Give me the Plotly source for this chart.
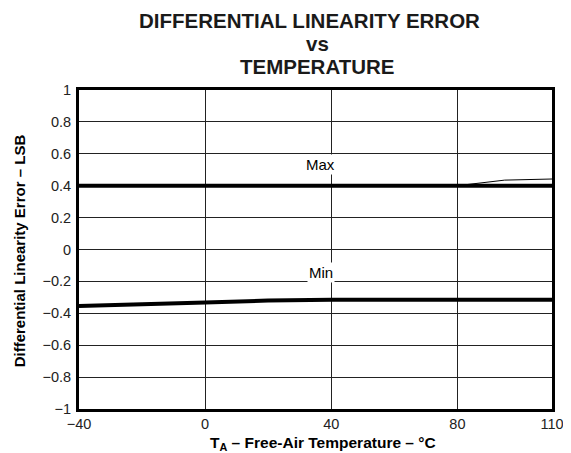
import plotly.graph_objects as go

# data
max_temp = [-40, -20, 0, 20, 40, 60, 80, 110]
max_val = [0.40, 0.40, 0.395, 0.395, 0.395, 0.397, 0.40, 0.40]
max_hi_temp = [80, 95, 110]
max_hi_val = [0.40, 0.435, 0.442]
min_temp = [-40, -30, -20, 0, 20, 40, 60, 80, 110]
min_val = [-0.355, -0.347, -0.344, -0.333, -0.32, -0.315, -0.315, -0.315, -0.315]

x_ticks = [-40, 0, 40, 80, 110]
x_text = ["\u221240", "0", "40", "80", "110"]
y_ticks = [-1, -0.8, -0.6, -0.4, -0.2, 0, 0.2, 0.4, 0.6, 0.8, 1]
y_text = ["\u22121", "\u22120.8", "\u22120.6", "\u22120.4", "\u22120.2", "0",
          "0.2", "0.4", "0.6", "0.8", "1"]

font = "Liberation Sans, Arial, sans-serif"

fig = go.Figure()
fig.add_trace(go.Scatter(x=max_temp, y=max_val, mode="lines",
                         line=dict(color="black", width=4), name="Max"))
fig.add_trace(go.Scatter(x=max_hi_temp, y=max_hi_val, mode="lines",
                         line=dict(color="black", width=1), name="Max"))
fig.add_trace(go.Scatter(x=min_temp, y=min_val, mode="lines",
                         line=dict(color="black", width=4), name="Min"))

fig.add_annotation(x=36.5, y=0.53, text="Max", showarrow=False,
                   bgcolor="white", font=dict(size=15, color="black"))
fig.add_annotation(x=36.8, y=-0.147, text="Min", showarrow=False,
                   bgcolor="white", font=dict(size=15, color="black"))

# three-line title, placed line by line
title_lines = ["DIFFERENTIAL LINEARITY ERROR", "vs", "TEMPERATURE"]
for txt, xp, yp in zip(title_lines, [0.488, 0.505, 0.505], [1.219, 1.147, 1.075]):
    fig.add_annotation(x=xp, y=yp, xref="paper", yref="paper", text="<b>%s</b>" % txt,
                       showarrow=False, xanchor="center", yanchor="middle",
                       font=dict(size=20.5, color="#1a1a1a"))

# axis titles
fig.add_annotation(x=0.516, y=-0.107, xref="paper", yref="paper",
                   text="<b>T<sub>A</sub> – Free-Air Temperature – °C</b>",
                   showarrow=False, xanchor="center", yanchor="middle",
                   font=dict(size=15.5, color="black"))
fig.add_annotation(x=-0.125, y=0.497, xref="paper", yref="paper", textangle=-90,
                   text="<b>Differential Linearity Error – LSB</b>",
                   showarrow=False, xanchor="center", yanchor="middle",
                   font=dict(size=15, color="black"))

fig.update_layout(
    width=563, height=445,
    margin=dict(l=71, r=19, t=82, b=44),
    paper_bgcolor="white", plot_bgcolor="white",
    showlegend=False,
    font=dict(family=font, color="black", size=14.5),
)
fig.update_xaxes(range=[-40, 110], tickvals=x_ticks, ticktext=x_text, ticks="",
                 tickfont=dict(size=14.5, color="#222"), automargin=False,
                 showgrid=True, gridcolor="#222", gridwidth=1,
                 zeroline=False, showline=True, linecolor="black",
                 linewidth=3, mirror=True)
fig.update_yaxes(range=[-1, 1], tickvals=y_ticks, ticktext=y_text, ticks="",
                 tickfont=dict(size=14.5, color="#222"), ticklabelstandoff=2,
                 automargin=False,
                 showgrid=True, gridcolor="#222", gridwidth=1,
                 zeroline=False, showline=True, linecolor="black",
                 linewidth=3, mirror=True)

fig.write_html("out.html")
